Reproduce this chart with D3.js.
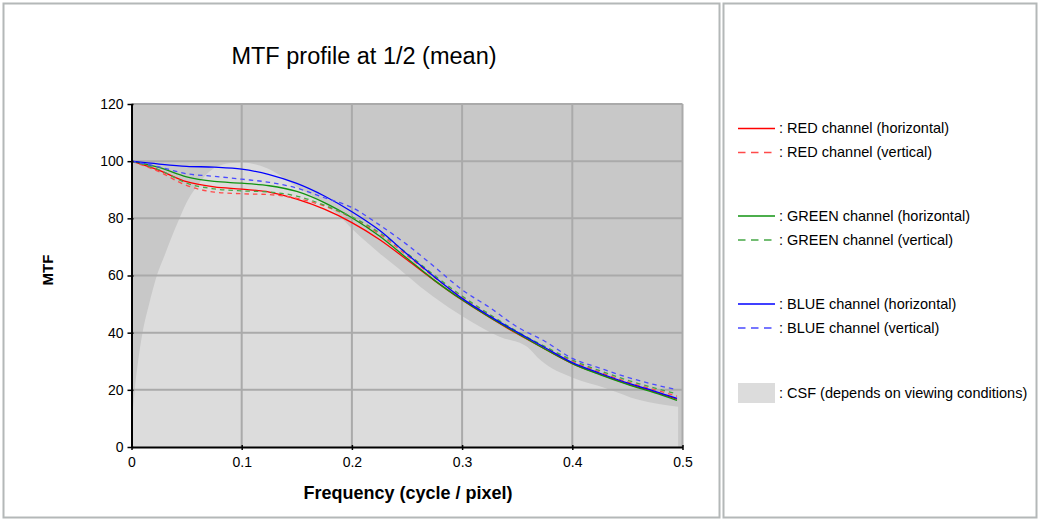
<!DOCTYPE html>
<html>
<head>
<meta charset="utf-8">
<script src="https://cdn.jsdelivr.net/npm/d3@7"></script>
<style>
  html, body { margin: 0; padding: 0; background: #fff; }
  svg { display: block; font-family: "Liberation Sans", Arial, sans-serif; }
</style>
</head>
<body>
<script>
// frequency samples (cycle / pixel)
const freq = [0, 0.025, 0.05, 0.075, 0.1, 0.125, 0.15, 0.175, 0.2, 0.225, 0.25,
  0.275, 0.3, 0.325, 0.35, 0.375, 0.4, 0.425, 0.45, 0.475, 0.495];

// MTF per channel / direction
const redH = [100, 96.8, 92.8, 91.0, 90.2, 89.2, 86.7, 83.2, 78.5, 72.6, 65.5,
  58.2, 51.4, 45.3, 39.6, 34.3, 29.2, 25.5, 22.1, 19.2, 16.7];
const redV = [100, 96.3, 91.5, 89.2, 88.6, 88.3, 87.0, 84.3, 80.2, 74.5, 67.0,
  59.3, 52.3, 46.0, 40.0, 34.8, 30.0, 26.2, 22.8, 20.0, 17.8];
const greenH = [100, 97.8, 94.5, 92.9, 92.3, 91.4, 89.4, 85.5, 80.2, 73.8, 66.0,
  58.3, 51.5, 45.4, 39.8, 34.3, 29.2, 25.3, 21.9, 18.9, 16.3];
const greenV = [100, 97.0, 92.3, 90.3, 89.6, 89.2, 87.8, 84.6, 80.5, 75.0, 67.8,
  60.0, 52.8, 46.4, 40.4, 35.2, 30.4, 26.7, 23.4, 20.6, 18.6];
const blueH = [100, 99.0, 98.2, 97.9, 97.2, 95.3, 92.2, 87.8, 82.3, 75.8, 67.5,
  59.5, 52.0, 45.8, 40.2, 34.8, 29.5, 25.8, 22.4, 19.5, 17.0];
const blueV = [100, 98.0, 95.6, 94.7, 93.7, 92.6, 90.6, 87.2, 83.8, 77.7, 70.8,
  63.0, 55.0, 48.8, 42.0, 37.0, 31.0, 27.6, 24.4, 21.8, 20.0];

// contrast sensitivity function (shaded area)
const csfFreq = [0, 0.001, 0.003, 0.006, 0.01, 0.016, 0.023, 0.03, 0.036, 0.043, 0.05,
  0.058, 0.071, 0.089, 0.1, 0.123, 0.15, 0.174, 0.189, 0.201, 0.225, 0.244, 0.262,
  0.274, 0.301, 0.334, 0.359, 0.371, 0.401, 0.431, 0.461, 0.496];
const csfVal = [0, 10, 20, 30, 40, 50, 60, 67, 73, 79.5, 85.5,
  90.5, 96.5, 99.3, 99.5, 97.5, 91, 85.4, 80.6, 76, 67.8, 61.9, 56.1,
  52.6, 45.6, 38.6, 35.1, 30.4, 24.1, 20.5, 16.4, 14.1];

const xTicks = [0, 0.1, 0.2, 0.3, 0.4, 0.5];
const yTicks = [0, 20, 40, 60, 80, 100, 120];

const series = [
  { name: 'RED channel (horizontal)', values: redH, color: '#ff0000', dashed: false },
  { name: 'RED channel (vertical)', values: redV, color: '#ff4a4a', dashed: true },
  { name: 'GREEN channel (horizontal)', values: greenH, color: '#119311', dashed: false },
  { name: 'GREEN channel (vertical)', values: greenV, color: '#45a845', dashed: true },
  { name: 'BLUE channel (horizontal)', values: blueH, color: '#0000ff', dashed: false },
  { name: 'BLUE channel (vertical)', values: blueV, color: '#4a4aff', dashed: true }
];

const W = 1040, H = 521;
const svg = d3.select('body').append('svg').attr('width', W).attr('height', H);

// panels
svg.append('rect').attr('x', 3.5).attr('y', 3.5).attr('width', 716).attr('height', 514)
  .attr('fill', '#fff').attr('stroke', '#b4b8b8').attr('stroke-width', 2);
svg.append('rect').attr('x', 723.5).attr('y', 3.5).attr('width', 313).attr('height', 514)
  .attr('fill', '#fff').attr('stroke', '#b4b8b8').attr('stroke-width', 2);

const x = d3.scaleLinear().domain([0, 0.5]).range([131.5, 682.5]);
const y = d3.scaleLinear().domain([0, 120]).range([447, 104]);

// title
svg.append('text').attr('x', 364).attr('y', 64).attr('text-anchor', 'middle')
  .attr('font-size', 23.5).text('MTF profile at 1/2 (mean)');

// plot background
svg.append('rect').attr('x', x(0)).attr('y', y(120))
  .attr('width', x(0.5) - x(0)).attr('height', y(0) - y(120)).attr('fill', '#c8c8c8');

// CSF area
const csf = csfFreq.map((f, i) => [f, csfVal[i]]);
svg.append('path').datum(csf)
  .attr('fill', '#dcdcdc')
  .attr('d', d3.area().x(d => x(d[0])).y0(y(0)).y1(d => y(d[1])).curve(d3.curveMonotoneX));

// grid
const grid = svg.append('g').attr('stroke', '#aaaaaa').attr('stroke-width', 2);
grid.selectAll('.gx').data(xTicks.slice(1)).join('line')
  .attr('x1', d => x(d)).attr('x2', d => x(d)).attr('y1', y(0)).attr('y2', y(120));
grid.selectAll('.gy').data(yTicks.slice(1)).join('line')
  .attr('x1', x(0)).attr('x2', x(0.5)).attr('y1', d => y(d)).attr('y2', d => y(d));

// curves
const line = d3.line().x((d, i) => x(freq[i])).y(d => y(d)).curve(d3.curveMonotoneX);
svg.append('g').selectAll('path').data(series).join('path')
  .attr('fill', 'none')
  .attr('stroke', d => d.color)
  .attr('stroke-width', 1.3)
  .attr('stroke-dasharray', d => d.dashed ? '4.5,4' : null)
  .attr('d', d => line(d.values));

// axes
const xAxis = svg.append('g').attr('transform', `translate(0,${y(0)})`)
  .call(d3.axisBottom(x).tickValues(xTicks).tickFormat(d3.format('')).tickSizeInner(3).tickSizeOuter(0).tickPadding(7));
const yAxis = svg.append('g').attr('transform', `translate(${x(0)},0)`)
  .call(d3.axisLeft(y).tickValues(yTicks).tickSizeInner(4).tickSizeOuter(0).tickPadding(4));
[xAxis, yAxis].forEach(a => {
  a.select('.domain').attr('stroke', '#000').attr('stroke-width', 2);
  a.selectAll('.tick line').attr('stroke', '#000').attr('stroke-width', 1.5);
  a.selectAll('.tick text').attr('font-size', 14).attr('fill', '#000')
    .attr('font-family', '"Liberation Sans", Arial, sans-serif');
});
xAxis.selectAll('.tick line').attr('y1', -2);
yAxis.selectAll('.tick line').attr('x1', 2);

// axis titles
svg.append('text').attr('x', 408).attr('y', 499).attr('text-anchor', 'middle')
  .attr('font-size', 18).attr('font-weight', 'bold').text('Frequency (cycle / pixel)');
svg.append('text').attr('transform', 'translate(53,270) rotate(-90)').attr('text-anchor', 'middle')
  .attr('font-size', 15).attr('font-weight', 'bold').text('MTF');

// legend
const legendY = [128.5, 152.5, 216, 240, 304, 328];
const lg = svg.append('g');
series.forEach((s, i) => {
  lg.append('line').attr('x1', 738).attr('x2', 775).attr('y1', legendY[i]).attr('y2', legendY[i])
    .attr('stroke', s.color).attr('stroke-width', 1.3)
    .attr('stroke-dasharray', s.dashed ? '7.5,5.5' : null);
  lg.append('text').attr('x', 779).attr('y', legendY[i] + 1).attr('dominant-baseline', 'middle')
    .attr('font-size', 14.5).attr('fill', '#000').text(': ' + s.name);
});
lg.append('rect').attr('x', 738).attr('y', 383).attr('width', 37).attr('height', 20).attr('fill', '#dcdcdc');
lg.append('text').attr('x', 779).attr('y', 394).attr('dominant-baseline', 'middle')
  .attr('font-size', 14.5).attr('fill', '#000').text(': CSF (depends on viewing conditions)');
</script>
</body>
</html>
